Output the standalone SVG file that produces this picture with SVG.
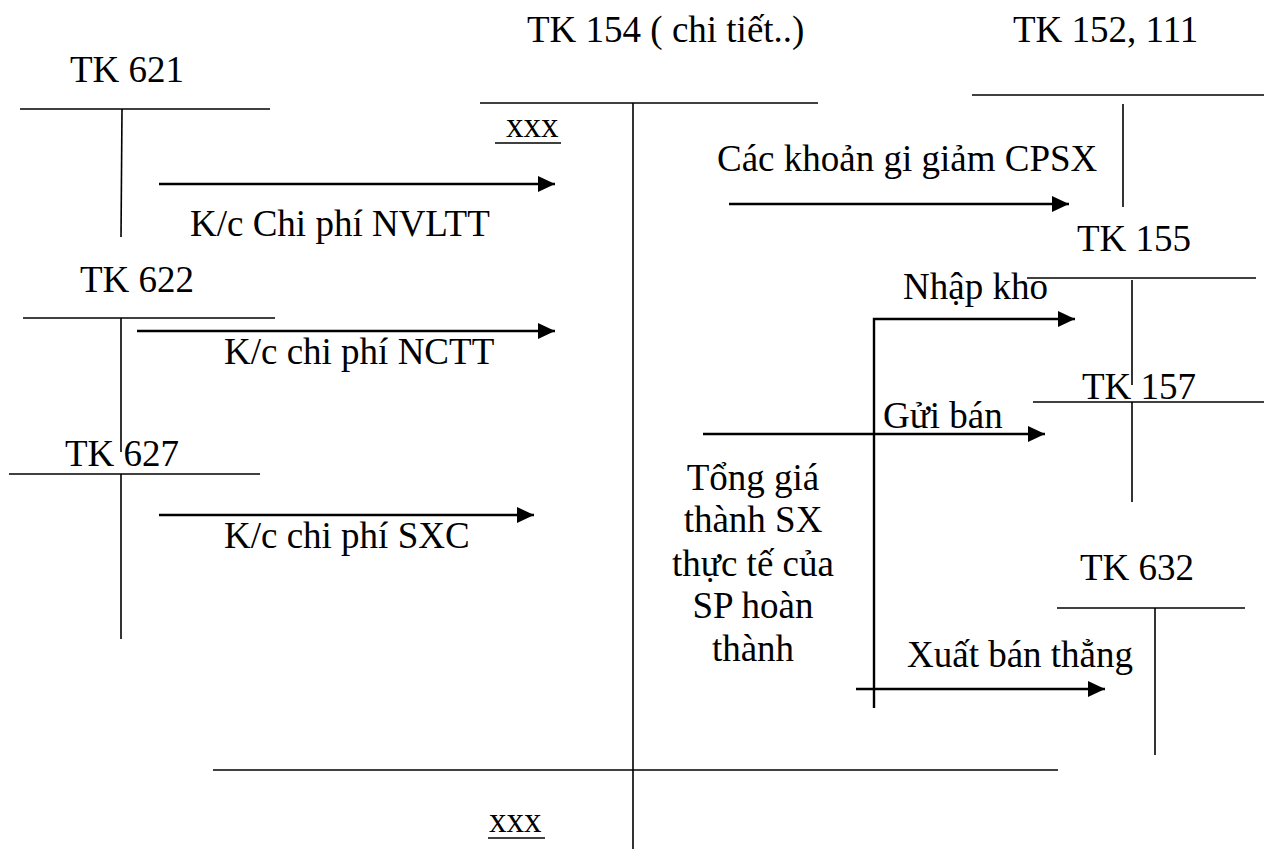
<svg xmlns="http://www.w3.org/2000/svg" width="1264" height="849" viewBox="0 0 1264 849">
<defs>
<marker id="ah" viewBox="0 0 17 16" refX="17" refY="8" markerWidth="17" markerHeight="16" markerUnits="userSpaceOnUse" orient="auto">
<path d="M0,0 L17,8 L0,16 Z" fill="#000"/>
</marker>
<style>
text{font-family:Liberation Serif,Tinos,Times New Roman,DejaVu Serif,serif;font-size:37px;fill:#000}
.x{font-size:35px}
.t{stroke:#000;stroke-width:1.6;fill:none}
.a{stroke:#000;stroke-width:2.4;fill:none;marker-end:url(#ah)}
</style>
</defs>
<rect width="1264" height="849" fill="#fff"/>
<g id="tk621">
<text x="70" y="82">TK 621</text>
<line class="t" x1="20" y1="109" x2="270" y2="109"/>
<line class="t" x1="122" y1="109" x2="121" y2="237"/>
</g>
<g id="tk622">
<text x="80" y="292">TK 622</text>
<line class="t" x1="23" y1="318" x2="275" y2="318"/>
<line class="t" x1="121" y1="318" x2="121" y2="452"/>
</g>
<g id="tk627">
<text x="65" y="466">TK 627</text>
<line class="t" x1="9" y1="474" x2="260" y2="474"/>
<line class="t" x1="121" y1="474" x2="121" y2="639"/>
</g>
<g id="tk154">
<text x="527" y="42">TK 154 ( chi tiết..)</text>
<line class="t" x1="480" y1="103" x2="818" y2="103"/>
<line class="t" x1="633" y1="103" x2="633" y2="849"/>
<line class="t" x1="213" y1="770" x2="1058" y2="770"/>
<text class="x" x="506" y="137">xxx</text>
<line class="t" x1="495" y1="143" x2="561" y2="143"/>
<text class="x" x="489" y="832">xxx</text>
<line class="t" x1="488" y1="838" x2="545" y2="838"/>
<text text-anchor="middle"><tspan x="753" y="490">Tổng giá</tspan><tspan x="753" y="532">thành SX</tspan><tspan x="753" y="576">thực tế của</tspan><tspan x="753" y="618">SP hoàn</tspan><tspan x="753" y="661">thành</tspan></text>
</g>
<g id="tk152">
<text x="1013" y="42">TK 152, 111</text>
<line class="t" x1="972" y1="95" x2="1264" y2="95"/>
<line class="t" x1="1123" y1="104" x2="1123" y2="207"/>
</g>
<g id="tk155">
<text x="1077" y="251">TK 155</text>
<line class="t" x1="1027" y1="278" x2="1256" y2="278"/>
<line class="t" x1="1132" y1="280" x2="1132" y2="385"/>
</g>
<g id="tk157">
<text x="1082" y="399">TK 157</text>
<line class="t" x1="1033" y1="402" x2="1264" y2="402"/>
<line class="t" x1="1132" y1="402" x2="1132" y2="502"/>
</g>
<g id="tk632">
<text x="1080" y="580">TK 632</text>
<line class="t" x1="1057" y1="608" x2="1245" y2="608"/>
<line class="t" x1="1155" y1="608" x2="1155" y2="755"/>
</g>
<g id="connectors">
<line class="a" x1="159" y1="184" x2="555" y2="184"/>
<line class="a" x1="137" y1="331" x2="555" y2="331"/>
<line class="a" x1="159" y1="515" x2="534" y2="515"/>
<line class="a" x1="729" y1="204" x2="1069" y2="204"/>
<path class="a" d="M874,708 L874,319 L1075,319"/>
<line class="a" x1="703" y1="434" x2="1045" y2="434"/>
<line class="a" x1="856" y1="689" x2="1105" y2="689"/>
<text x="190" y="236">K/c Chi phí NVLTT</text>
<text x="224" y="364">K/c chi phí NCTT</text>
<text x="224" y="548">K/c chi phí SXC</text>
<text x="717" y="171">Các khoản gi giảm CPSX</text>
<text x="903" y="299">Nhập kho</text>
<text x="883" y="428">Gửi bán</text>
<text x="907" y="667">Xuất bán thẳng</text>
</g>
</svg>
